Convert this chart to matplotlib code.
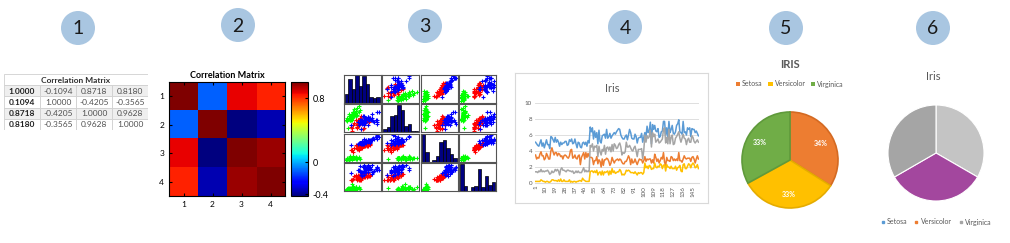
import numpy as np
import matplotlib
matplotlib.use("Agg")
import matplotlib.pyplot as plt
from matplotlib.patches import Circle, Rectangle
from matplotlib.lines import Line2D

plt.rcParams['font.family'] = ['Lato', 'DejaVu Sans']

# iris data, 50 setosa / 50 versicolor / 50 virginica
sepal_length = [
    5.1, 4.9, 4.7, 4.6, 5.0, 5.4, 4.6, 5.0, 4.4, 4.9, 5.4, 4.8, 4.8, 4.3, 5.8, 5.7, 5.4, 5.1, 5.7, 5.1, 5.4, 5.1, 4.6, 5.1, 4.8,
    5.0, 5.0, 5.2, 5.2, 4.7, 4.8, 5.4, 5.2, 5.5, 4.9, 5.0, 5.5, 4.9, 4.4, 5.1, 5.0, 4.5, 4.4, 5.0, 5.1, 4.8, 5.1, 4.6, 5.3, 5.0,
    7.0, 6.4, 6.9, 5.5, 6.5, 5.7, 6.3, 4.9, 6.6, 5.2, 5.0, 5.9, 6.0, 6.1, 5.6, 6.7, 5.6, 5.8, 6.2, 5.6, 5.9, 6.1, 6.3, 6.1, 6.4,
    6.6, 6.8, 6.7, 6.0, 5.7, 5.5, 5.5, 5.8, 6.0, 5.4, 6.0, 6.7, 6.3, 5.6, 5.5, 5.5, 6.1, 5.8, 5.0, 5.6, 5.7, 5.7, 6.2, 5.1, 5.7,
    6.3, 5.8, 7.1, 6.3, 6.5, 7.6, 4.9, 7.3, 6.7, 7.2, 6.5, 6.4, 6.8, 5.7, 5.8, 6.4, 6.5, 7.7, 7.7, 6.0, 6.9, 5.6, 7.7, 6.3, 6.7,
    7.2, 6.2, 6.1, 6.4, 7.2, 7.4, 7.9, 6.4, 6.3, 6.1, 7.7, 6.3, 6.4, 6.0, 6.9, 6.7, 6.9, 5.8, 6.8, 6.7, 6.7, 6.3, 6.5, 6.2, 5.9]
sepal_width = [
    3.5, 3.0, 3.2, 3.1, 3.6, 3.9, 3.4, 3.4, 2.9, 3.1, 3.7, 3.4, 3.0, 3.0, 4.0, 4.4, 3.9, 3.5, 3.8, 3.8, 3.4, 3.7, 3.6, 3.3, 3.4,
    3.0, 3.4, 3.5, 3.4, 3.2, 3.1, 3.4, 4.1, 4.2, 3.1, 3.2, 3.5, 3.1, 3.0, 3.4, 3.5, 2.3, 3.2, 3.5, 3.8, 3.0, 3.8, 3.2, 3.7, 3.3,
    3.2, 3.2, 3.1, 2.3, 2.8, 2.8, 3.3, 2.4, 2.9, 2.7, 2.0, 3.0, 2.2, 2.9, 2.9, 3.1, 3.0, 2.7, 2.2, 2.5, 3.2, 2.8, 2.5, 2.8, 2.9,
    3.0, 2.8, 3.0, 2.9, 2.6, 2.4, 2.4, 2.7, 2.7, 3.0, 3.4, 3.1, 2.3, 3.0, 2.5, 2.6, 3.0, 2.6, 2.3, 2.7, 3.0, 2.9, 2.9, 2.5, 2.8,
    3.3, 2.7, 3.0, 2.9, 3.0, 3.0, 2.5, 2.9, 2.5, 3.6, 3.2, 2.7, 3.0, 2.5, 2.8, 3.2, 3.0, 3.8, 2.6, 2.2, 3.2, 2.8, 2.8, 2.7, 3.3,
    3.2, 2.8, 3.0, 2.8, 3.0, 2.8, 3.8, 2.8, 2.8, 2.6, 3.0, 3.4, 3.1, 3.0, 3.1, 3.1, 3.1, 2.7, 3.2, 3.3, 3.0, 2.5, 3.0, 3.4, 3.0]
petal_length = [
    1.4, 1.4, 1.3, 1.5, 1.4, 1.7, 1.4, 1.5, 1.4, 1.5, 1.5, 1.6, 1.4, 1.1, 1.2, 1.5, 1.3, 1.4, 1.7, 1.5, 1.7, 1.5, 1.0, 1.7, 1.9,
    1.6, 1.6, 1.5, 1.4, 1.6, 1.6, 1.5, 1.5, 1.4, 1.5, 1.2, 1.3, 1.5, 1.3, 1.5, 1.3, 1.3, 1.3, 1.6, 1.9, 1.4, 1.6, 1.4, 1.5, 1.4,
    4.7, 4.5, 4.9, 4.0, 4.6, 4.5, 4.7, 3.3, 4.6, 3.9, 3.5, 4.2, 4.0, 4.7, 3.6, 4.4, 4.5, 4.1, 4.5, 3.9, 4.8, 4.0, 4.9, 4.7, 4.3,
    4.4, 4.8, 5.0, 4.5, 3.5, 3.8, 3.7, 3.9, 5.1, 4.5, 4.5, 4.7, 4.4, 4.1, 4.0, 4.4, 4.6, 4.0, 3.3, 4.2, 4.2, 4.2, 4.3, 3.0, 4.1,
    6.0, 5.1, 5.9, 5.6, 5.8, 6.6, 4.5, 6.3, 5.8, 6.1, 5.1, 5.3, 5.5, 5.0, 5.1, 5.3, 5.5, 6.7, 6.9, 5.0, 5.7, 4.9, 6.7, 4.9, 5.7,
    6.0, 4.8, 4.9, 5.6, 5.8, 6.1, 6.4, 5.6, 5.1, 5.6, 6.1, 5.6, 5.5, 4.8, 5.4, 5.6, 5.1, 5.1, 5.9, 5.7, 5.2, 5.0, 5.2, 5.4, 5.1]
petal_width = [
    0.2, 0.2, 0.2, 0.2, 0.2, 0.4, 0.3, 0.2, 0.2, 0.1, 0.2, 0.2, 0.1, 0.1, 0.2, 0.4, 0.4, 0.3, 0.3, 0.3, 0.2, 0.4, 0.2, 0.5, 0.2,
    0.2, 0.4, 0.2, 0.2, 0.2, 0.2, 0.4, 0.1, 0.2, 0.1, 0.2, 0.2, 0.1, 0.2, 0.2, 0.3, 0.3, 0.2, 0.6, 0.4, 0.3, 0.2, 0.2, 0.2, 0.2,
    1.4, 1.5, 1.5, 1.3, 1.5, 1.3, 1.6, 1.0, 1.3, 1.4, 1.0, 1.5, 1.0, 1.4, 1.3, 1.4, 1.5, 1.0, 1.5, 1.1, 1.8, 1.3, 1.5, 1.2, 1.3,
    1.4, 1.4, 1.7, 1.5, 1.0, 1.1, 1.0, 1.2, 1.6, 1.5, 1.6, 1.5, 1.3, 1.3, 1.3, 1.2, 1.4, 1.2, 1.0, 1.3, 1.2, 1.3, 1.3, 1.1, 1.3,
    2.5, 1.9, 2.1, 1.8, 2.2, 2.1, 1.7, 1.8, 1.8, 2.5, 2.0, 1.9, 2.1, 2.0, 2.4, 2.3, 1.8, 2.2, 2.3, 1.5, 2.3, 2.0, 2.0, 1.8, 2.1,
    1.8, 1.8, 1.8, 2.1, 1.6, 1.9, 2.0, 2.2, 1.5, 1.4, 2.3, 2.4, 1.8, 1.8, 2.1, 2.4, 2.3, 1.9, 2.3, 2.5, 2.3, 1.9, 2.0, 2.3, 1.8]
species = ["Setosa", "Versicolor", "Virginica"]
species_counts = [50, 50, 50]

# correlation matrix as printed in panel 1 / 2
corr = [[1.0000, -0.1094, 0.8718, 0.8180],
        [-0.1094, 1.0000, -0.4205, -0.3565],
        [0.8718, -0.4205, 1.0000, 0.9628],
        [0.8180, -0.3565, 0.9628, 1.0000]]
table_text = [["1.0000", "-0.1094", "0.8718", "0.8180"],
              ["0.1094", "1.0000", "-0.4205", "-0.3565"],
              ["0.8718", "-0.4205", "1.0000", "0.9628"],
              ["0.8180", "-0.3565", "0.9628", "1.0000"]]
pie5_percent = [34, 33, 33]

W, H = 1010, 243
fig = plt.figure(figsize=(W / 100, H / 100), dpi=100)


def box(x0, y0, x1, y1):
    # pixel box (top-left origin) -> axes
    return fig.add_axes([x0 / W, 1 - y1 / H, (x1 - x0) / W, (y1 - y0) / H])


# numbered circles
ov = box(0, 0, W, H)
ov.set_xlim(0, W)
ov.set_ylim(H, 0)
ov.axis("off")
for n, (cx, cy) in enumerate([(78, 28), (238, 25), (425, 26), (625, 27), (786, 28), (933, 28)], start=1):
    ov.add_patch(Circle((cx, cy), 17, color="#A9C6E1", lw=0))
    ov.text(cx, cy + 1, str(n), ha="center", va="center", fontsize=14, color="#1a1a1a")

# 1: table
ax_t = box(4, 74, 148, 130)
ax_t.set_xlim(0, 4)
ax_t.set_ylim(5, 0)
ax_t.axis("off")
ax_t.add_patch(Rectangle((0, 0), 4, 1, fc="white", ec="#D0D0D0", lw=0.6))
ax_t.text(2, 0.55, "Correlation Matrix", ha="center", va="center", fontsize=6, fontweight="bold", color="#303030")
for r, row in enumerate(table_text):
    for c, val in enumerate(row):
        fc = "#EFEFEF" if r % 2 == 0 else "white"
        ax_t.add_patch(Rectangle((c, r + 1), 1, 1, fc=fc, ec="#D0D0D0", lw=0.6))
        ax_t.text(c + 0.5, r + 1.55, val, ha="center", va="center", fontsize=6,
                  fontweight="bold" if c == 0 else "normal",
                  color="#202020" if c == 0 else "#505050")

# 2: heatmap
ax_h = box(169, 82, 285, 196)
im = ax_h.imshow(np.array(corr), cmap="jet", vmin=-0.4205, vmax=1.0, aspect="auto")
ax_h.set_xticks(range(4))
ax_h.set_xticklabels(["1", "2", "3", "4"])
ax_h.set_yticks(range(4))
ax_h.set_yticklabels(["1", "2", "3", "4"])
ax_h.tick_params(labelsize=6, length=2, direction="in", top=True, right=True)
ax_h.set_title("Correlation Matrix", fontsize=6.5, fontweight="bold", pad=3)
cax = box(291, 82, 308, 196)
cb = fig.colorbar(im, cax=cax, ticks=[-0.4, 0, 0.8])
cb.ax.set_yticklabels(["-0.4", "0", "0.8"])
cb.ax.tick_params(labelsize=6.5, length=2, direction="in")

# 3: scatter matrix
feats = [sepal_length, sepal_width, petal_length, petal_width]
sp_colors = ["#00FF00", "#FF0000", "#0000FF"]
x0, x1, y0, y1 = 343, 497, 74, 192
cw, ch = (x1 - x0) / 4, (y1 - y0) / 4
for i in range(4):
    for j in range(4):
        ax = box(x0 + j * cw + 0.6, y0 + i * ch + 0.6, x0 + (j + 1) * cw - 0.6, y0 + (i + 1) * ch - 0.6)
        if i == j:
            counts, _, _ = ax.hist(feats[i], bins=10, color="#000080", edgecolor="black", lw=0.5)
            ax.margins(x=0.03)
            ax.set_ylim(0, max(counts) * 1.02)
        else:
            start = 0
            for k, cnt in enumerate(species_counts):
                ax.plot(feats[j][start:start + cnt], feats[i][start:start + cnt], "+",
                        color=sp_colors[k], ms=3, mew=0.8)
                start += cnt
            ax.margins(0.07)
        ax.set_xticks([])
        ax.set_yticks([])
        for s in ax.spines.values():
            s.set_color("#555555")
            s.set_linewidth(0.8)

# 4: line chart
frame = box(515, 73, 708, 203)
frame.set_xticks([])
frame.set_yticks([])
for s in frame.spines.values():
    s.set_color("#D9D9D9")
    s.set_linewidth(0.8)
fig.text(612 / W, 1 - 88 / H, "Iris", ha="center", va="center", fontsize=8, color="#595959")
ax_l = box(535, 103, 699, 183)
idx = np.arange(1, 151)
for vals, col in zip(feats, ["#5B9BD5", "#ED7D31", "#A5A5A5", "#FFC000"]):
    ax_l.plot(idx, vals, color=col, lw=1.1)
ax_l.set_ylim(0, 10)
ax_l.set_xlim(0.5, 150.5)
ax_l.set_yticks(range(0, 11, 2))
ax_l.set_xticks(range(1, 151, 9))
ax_l.set_xticklabels([str(v) for v in range(1, 151, 9)], rotation=90)
ax_l.tick_params(labelsize=4.5, colors="#595959", length=0, pad=2)
ax_l.grid(axis="y", color="#D9D9D9", lw=0.6)
ax_l.set_axisbelow(True)
for s in ["top", "right", "left"]:
    ax_l.spines[s].set_visible(False)
ax_l.spines["bottom"].set_color("#D9D9D9")

# 5: pie
ax5 = box(730, 100, 850, 220)
colors5 = ["#ED7D31", "#FFC000", "#70AD47"]
edges5 = ["#D46A22", "#E5AC00", "#5F9A3B"]
wedges, _, autos = ax5.pie(pie5_percent, colors=colors5, startangle=90, counterclock=False,
                           autopct="%.0f%%", pctdistance=0.72,
                           textprops=dict(color="white", fontsize=5, fontweight="bold"))
for w, ec in zip(wedges, edges5):
    w.set_edgecolor(ec)
    w.set_linewidth(1.2)
ax5.set_aspect("equal")
fig.text(790 / W, 1 - 65 / H, "IRIS", ha="center", va="center", fontsize=8, fontweight="bold", color="#595959")
leg_h5 = [Rectangle((0, 0), 1, 1, fc=c, ec="none") for c in colors5]
fig.legend(leg_h5, species, loc="center", bbox_to_anchor=(790 / W, 1 - 84 / H), ncol=3, frameon=False,
           fontsize=5, handlelength=0.6, handleheight=0.6, columnspacing=0.8, handletextpad=0.3,
           labelcolor="#595959")

# 6: pie
ax6 = box(876, 93, 996, 213)
ax6.pie(species_counts, colors=["#C4C4C4", "#A3479E", "#A5A5A5"], startangle=90, counterclock=False,
        wedgeprops=dict(edgecolor="white", linewidth=0.8))
ax6.set_aspect("equal")
fig.text(933 / W, 1 - 76 / H, "Iris", ha="center", va="center", fontsize=8, color="#595959")
leg_h6 = [Line2D([], [], ls="none", marker="s", ms=2, color=c) for c in ["#5B9BD5", "#ED7D31", "#A5A5A5"]]
fig.legend(leg_h6, species, loc="center", bbox_to_anchor=(936 / W, 1 - 222 / H), ncol=3, frameon=False,
           fontsize=5, handlelength=0.6, columnspacing=1.0, handletextpad=0.3, labelcolor="#595959")

fig.savefig("out.png", dpi=100)
